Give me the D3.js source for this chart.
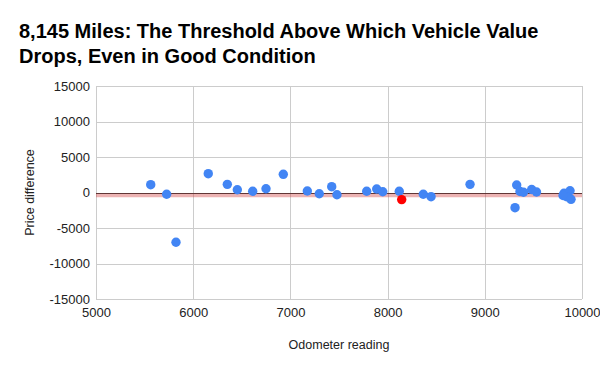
<!DOCTYPE html>
<html><head><meta charset="utf-8">
<script src="https://cdn.jsdelivr.net/npm/d3@7"></script>
<style>body{margin:0;background:#fff}svg{display:block}text{font-family:Arial,"Liberation Sans",sans-serif}</style>
</head><body><svg id="c" width="600" height="371"></svg>
<script>
const titleLines = ["8,145 Miles: The Threshold Above Which Vehicle Value", "Drops, Even in Good Condition"];
const odometer = [5563,5727,5823,6155,6351,6454,6612,6749,6927,7174,7297,7425,7479,7785,7888,7950,8120,8367,8447,8848,9328,9311,9362,9398,9482,9532,9815,9877,9842,9887,9805];
const priceDiff = [1100,-250,-7010,2650,1150,390,170,530,2560,210,-170,820,-310,170,490,110,170,-250,-590,1150,1060,-2140,140,30,420,70,-110,250,-590,-960,-420];
const highlightX = [8145];
const highlightY = [-1000];
const trendY = [-400];
const xTicks = [5000,6000,7000,8000,9000,10000];
const yTicks = [-15000,-10000,-5000,0,5000,10000,15000];
const xLabel = "Odometer reading", yLabel = "Price difference";

const FONT = 'Arial,"Liberation Sans",sans-serif';
const svg = d3.select("#c");
const L=96,R=582,T=86,B=299;
const x = d3.scaleLinear().domain([5000,10000]).range([L,R]);
const y = d3.scaleLinear().domain([-15000,15000]).range([B,T]);

const t = svg.append("text").attr("x",19).attr("font-size",20).attr("font-weight","bold").attr("fill","#000");
titleLines.forEach((s,i)=>t.append("tspan").attr("x",19).attr("y",38+i*25).text(s));

const xg = svg.append("g").attr("transform",`translate(0,${B})`)
  .call(d3.axisBottom(x).tickValues(xTicks).tickSize(-(B-T)).tickFormat(d=>d));
const yg = svg.append("g").attr("transform",`translate(${L},0)`)
  .call(d3.axisLeft(y).tickValues(yTicks).tickSize(-(R-L)).tickFormat(d=>d));
[xg,yg].forEach(g=>{g.select(".domain").remove();g.selectAll("line").attr("stroke","#cccccc").attr("shape-rendering","crispEdges");
  g.selectAll("text").attr("font-size",13).attr("fill","#222").attr("font-family",FONT);});
xg.selectAll("text").attr("dy","1.05em").attr("y",4);
yg.selectAll("text").attr("x",-6);

svg.append("line").attr("x1",L).attr("x2",R).attr("y1",Math.round(y(0))+0.5).attr("y2",Math.round(y(0))+0.5).attr("stroke","#333");
svg.selectAll(".trend").data(trendY).join("line").attr("x1",L).attr("x2",R).attr("y1",d=>y(d)).attr("y2",d=>y(d))
  .attr("stroke","#d04040").attr("stroke-opacity",0.4).attr("stroke-width",4);

svg.append("g").selectAll("circle").data(odometer.map((d,i)=>[d,priceDiff[i]])).join("circle")
  .attr("cx",d=>x(d[0])).attr("cy",d=>y(d[1])).attr("r",4.7).attr("fill","#4285f4");
svg.append("g").selectAll("circle").data(highlightX.map((d,i)=>[d,highlightY[i]])).join("circle")
  .attr("cx",d=>x(d[0])).attr("cy",d=>y(d[1])).attr("r",4.7).attr("fill","#ff0000");

svg.append("text").attr("x",(L+R)/2).attr("y",349).attr("text-anchor","middle").attr("font-size",12.5).attr("fill","#222").text(xLabel);
svg.append("text").attr("transform",`translate(34,${(T+B)/2}) rotate(-90)`).attr("text-anchor","middle").attr("font-size",12.5).attr("fill","#222").text(yLabel);
</script></body></html>
